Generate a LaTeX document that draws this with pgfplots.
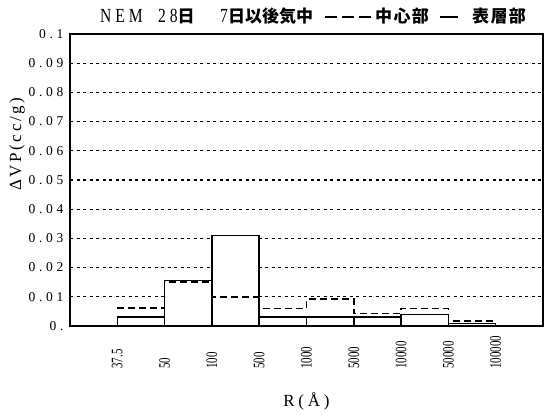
\documentclass[border=0pt]{standalone}
\usepackage{fontspec}
\setmainfont{Liberation Serif}
\newfontfamily\cjk{Noto Sans CJK JP}
\newfontfamily\cjkw[LetterSpace=8]{Noto Sans CJK JP}
\newfontfamily\tickfont[LetterSpace=28]{Liberation Serif}
\newfontfamily\ylabfont[LetterSpace=15]{Liberation Serif}
\newfontfamily\xlabfont[LetterSpace=22]{Liberation Serif}
\newfontfamily\headfont[LetterSpace=25]{Liberation Serif}
\usepackage{graphicx}
\usepackage{pgfplots}
\pgfplotsset{compat=1.18}
\usepackage{pgfplotstable}
\usetikzlibrary{calc}

% pore volume increment per radius class (bin i runs from edge i to edge i+1)
\pgfplotstableread{
x surface core
0 0.0030 0.0062
1 0.0155 0.0150
2 0.0310 0.0100
3 0.0030 0.0060
4 0.0030 0.0092
5 0.0030 0.0042
6 0.0040 0.0060
7 0.0008 0.0017
8 0.0008 0.0017
}\bins

\newcommand{\xl}[1]{\scalebox{0.68}[1]{#1}}
\newcommand{\jp}{\cjk\bfseries\fontsize{17bp}{20bp}\selectfont}
\newcommand{\jpw}{\cjkw\bfseries\fontsize{17bp}{20bp}\selectfont}
\newcommand{\lat}[1]{\scalebox{0.78}[1]{\headfont\fontsize{20bp}{22bp}\selectfont #1}}

\begin{document}
\begin{tikzpicture}
\begin{axis}[
  name=ax,
  scale only axis,
  width=473bp, height=292bp,
  xmin=-1, xmax=9,
  ymin=0, ymax=0.1,
  axis line style={line width=1.4bp},
  major tick length=0pt,
  xtick={0,1,2,3,4,5,6,7,8},
  xticklabels={\xl{37.5},\xl{50},\xl{100},\xl{500},\xl{1000},\xl{5000},\xl{10000},\xl{50000},\xl{100000}},
  ytick={0,0.01,0.02,0.03,0.04,0.05,0.06,0.07,0.08,0.09,0.1},
  yticklabels={0.,0.01,0.02,0.03,0.04,0.05,0.06,0.07,0.08,0.09,0.1},
  ymajorgrids,
  y grid style={black, line width=1.2bp, dash pattern=on 3bp off 3.5bp},
  /pgf/number format/assume math mode=true,
  xticklabel style={font=\fontsize{16bp}{18bp}\selectfont, yshift=-46bp, rotate=90, anchor=west},
  yticklabel style={font=\tickfont\fontsize{13.5bp}{15bp}\selectfont, xshift=-3bp},
  xlabel={R(Å)},
  xlabel style={at={(rel axis cs:0.5,0)}, anchor=center, yshift=-75bp, font=\xlabfont\fontsize{17bp}{19bp}\selectfont},
  ylabel={ΔVP(cc/\,g)},
  ylabel style={at={(rel axis cs:0,0.623)}, anchor=center, yshift=53bp, font=\ylabfont\fontsize{17bp}{19bp}\selectfont},
]
  % surface layer: open boxes
  \addplot[ybar interval, draw=black, fill=white, line width=1.5bp]
    table[x=x, y=surface]{\bins};
  % centre: dashed steps
  \addplot[const plot, black, line width=1.5bp, dash pattern=on 7bp off 4bp]
    table[x=x, y=core]{\bins};
\end{axis}
% heading with the line key
\begin{scope}[shift={(ax.north west)}]
  \node[anchor=base west, inner sep=0pt] at (30bp,11bp) {\lat{NEM}};
  \node[anchor=base west, inner sep=0pt] at (88bp,11bp) {\lat{28}\jp 日};
  \node[anchor=base west, inner sep=0pt] at (150bp,11bp) {\lat{7}\jp 日以後気中};
  \draw[line width=1.5bp, dash pattern=on 12bp off 5bp] (255bp,17bp) -- (302bp,17bp);
  \node[anchor=base west, inner sep=0pt] at (305bp,11bp) {\jpw 中心部};
  \draw[line width=1.5bp] (370bp,17bp) -- (388bp,17bp);
  \node[anchor=base west, inner sep=0pt] at (402bp,11bp) {\jpw 表層部};
\end{scope}
\path ($(ax.south west)+(-70bp,-93bp)$) rectangle ($(ax.south west)+(481bp,326bp)$);
\end{tikzpicture}
\end{document}
